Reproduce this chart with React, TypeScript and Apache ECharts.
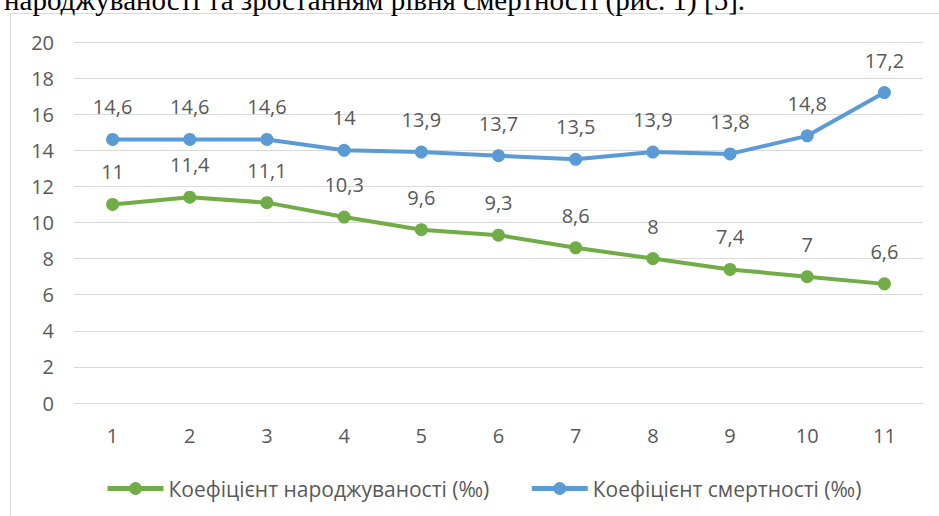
import React, { useEffect, useRef } from "react";
import * as echarts from "echarts";

const categories = ["1", "2", "3", "4", "5", "6", "7", "8", "9", "10", "11"];
const birthRate = [11, 11.4, 11.1, 10.3, 9.6, 9.3, 8.6, 8, 7.4, 7, 6.6];
const deathRate = [14.6, 14.6, 14.6, 14, 13.9, 13.7, 13.5, 13.9, 13.8, 14.8, 17.2];
const birthName = "Коефіцієнт народжуваності (‰)";
const deathName = "Коефіцієнт смертності (‰)";
const headerText = "народжуваності та зростанням рівня смертності (рис. 1) [5].";

const FONT = "'Open Sans', 'Noto Sans', sans-serif";
const TXT = "#595959";

export default function App() {
  const ref = useRef<HTMLDivElement>(null);
  useEffect(() => {
    if (!ref.current) return;
    const chart = echarts.init(ref.current, undefined, { renderer: "svg" });
    const fmt = (p: any) => String(p.value).replace(".", ",");
    const labelStyle = {
      show: true,
      position: "top",
      distance: 16,
      color: TXT,
      fontSize: 20,
      fontFamily: FONT,
      formatter: fmt,
    };
    chart.setOption({
      animation: false,
      backgroundColor: "#ffffff",
      textStyle: { fontFamily: FONT },
      graphic: [
        {
          type: "rect",
          shape: { x: 10.5, y: 13.5, width: 1000, height: 600 },
          style: { fill: "none", stroke: "#d9d9d9", lineWidth: 1 },
          z: -1,
        },
        {
          type: "text",
          x: 4,
          y: 14,
          style: {
            text: headerText,
            font: "29px 'Liberation Serif', serif",
            fill: "#000000",
            textVerticalAlign: "bottom",
          },
        },
      ],
      grid: { left: 74, right: 16, top: 42, bottom: 113, containLabel: false },
      legend: {
        top: 478,
        left: 105,
        padding: 0,
        itemGap: 40,
        itemWidth: 56,
        itemHeight: 16,
        lineStyle: { width: 5 },
        textStyle: { color: TXT, fontSize: 21, fontFamily: FONT },
        data: [birthName, deathName],
      },
      xAxis: {
        type: "category",
        data: categories,
        boundaryGap: true,
        axisLine: { show: false },
        axisTick: { show: false },
        axisLabel: { color: TXT, fontSize: 20, margin: 22, fontFamily: FONT },
      },
      yAxis: {
        type: "value",
        min: 0,
        max: 20,
        interval: 2,
        axisLine: { show: false },
        axisTick: { show: false },
        axisLabel: { color: TXT, fontSize: 20, margin: 20, fontFamily: FONT },
        splitLine: { lineStyle: { color: "#d9d9d9", width: 1 } },
      },
      series: [
        {
          name: birthName,
          type: "line",
          data: birthRate,
          color: "#70ad47",
          symbol: "circle",
          symbolSize: 13,
          lineStyle: { width: 4, color: "#70ad47" },
          itemStyle: { color: "#70ad47" },
          label: labelStyle,
        },
        {
          name: deathName,
          type: "line",
          data: deathRate,
          color: "#5b9bd5",
          symbol: "circle",
          symbolSize: 13,
          lineStyle: { width: 4, color: "#5b9bd5" },
          itemStyle: { color: "#5b9bd5" },
          label: labelStyle,
        },
      ],
    });
    return () => chart.dispose();
  }, []);
  return (
    <div
      ref={ref}
      style={{ position: "fixed", left: 0, top: 0, width: 939, height: 516 }}
    />
  );
}
